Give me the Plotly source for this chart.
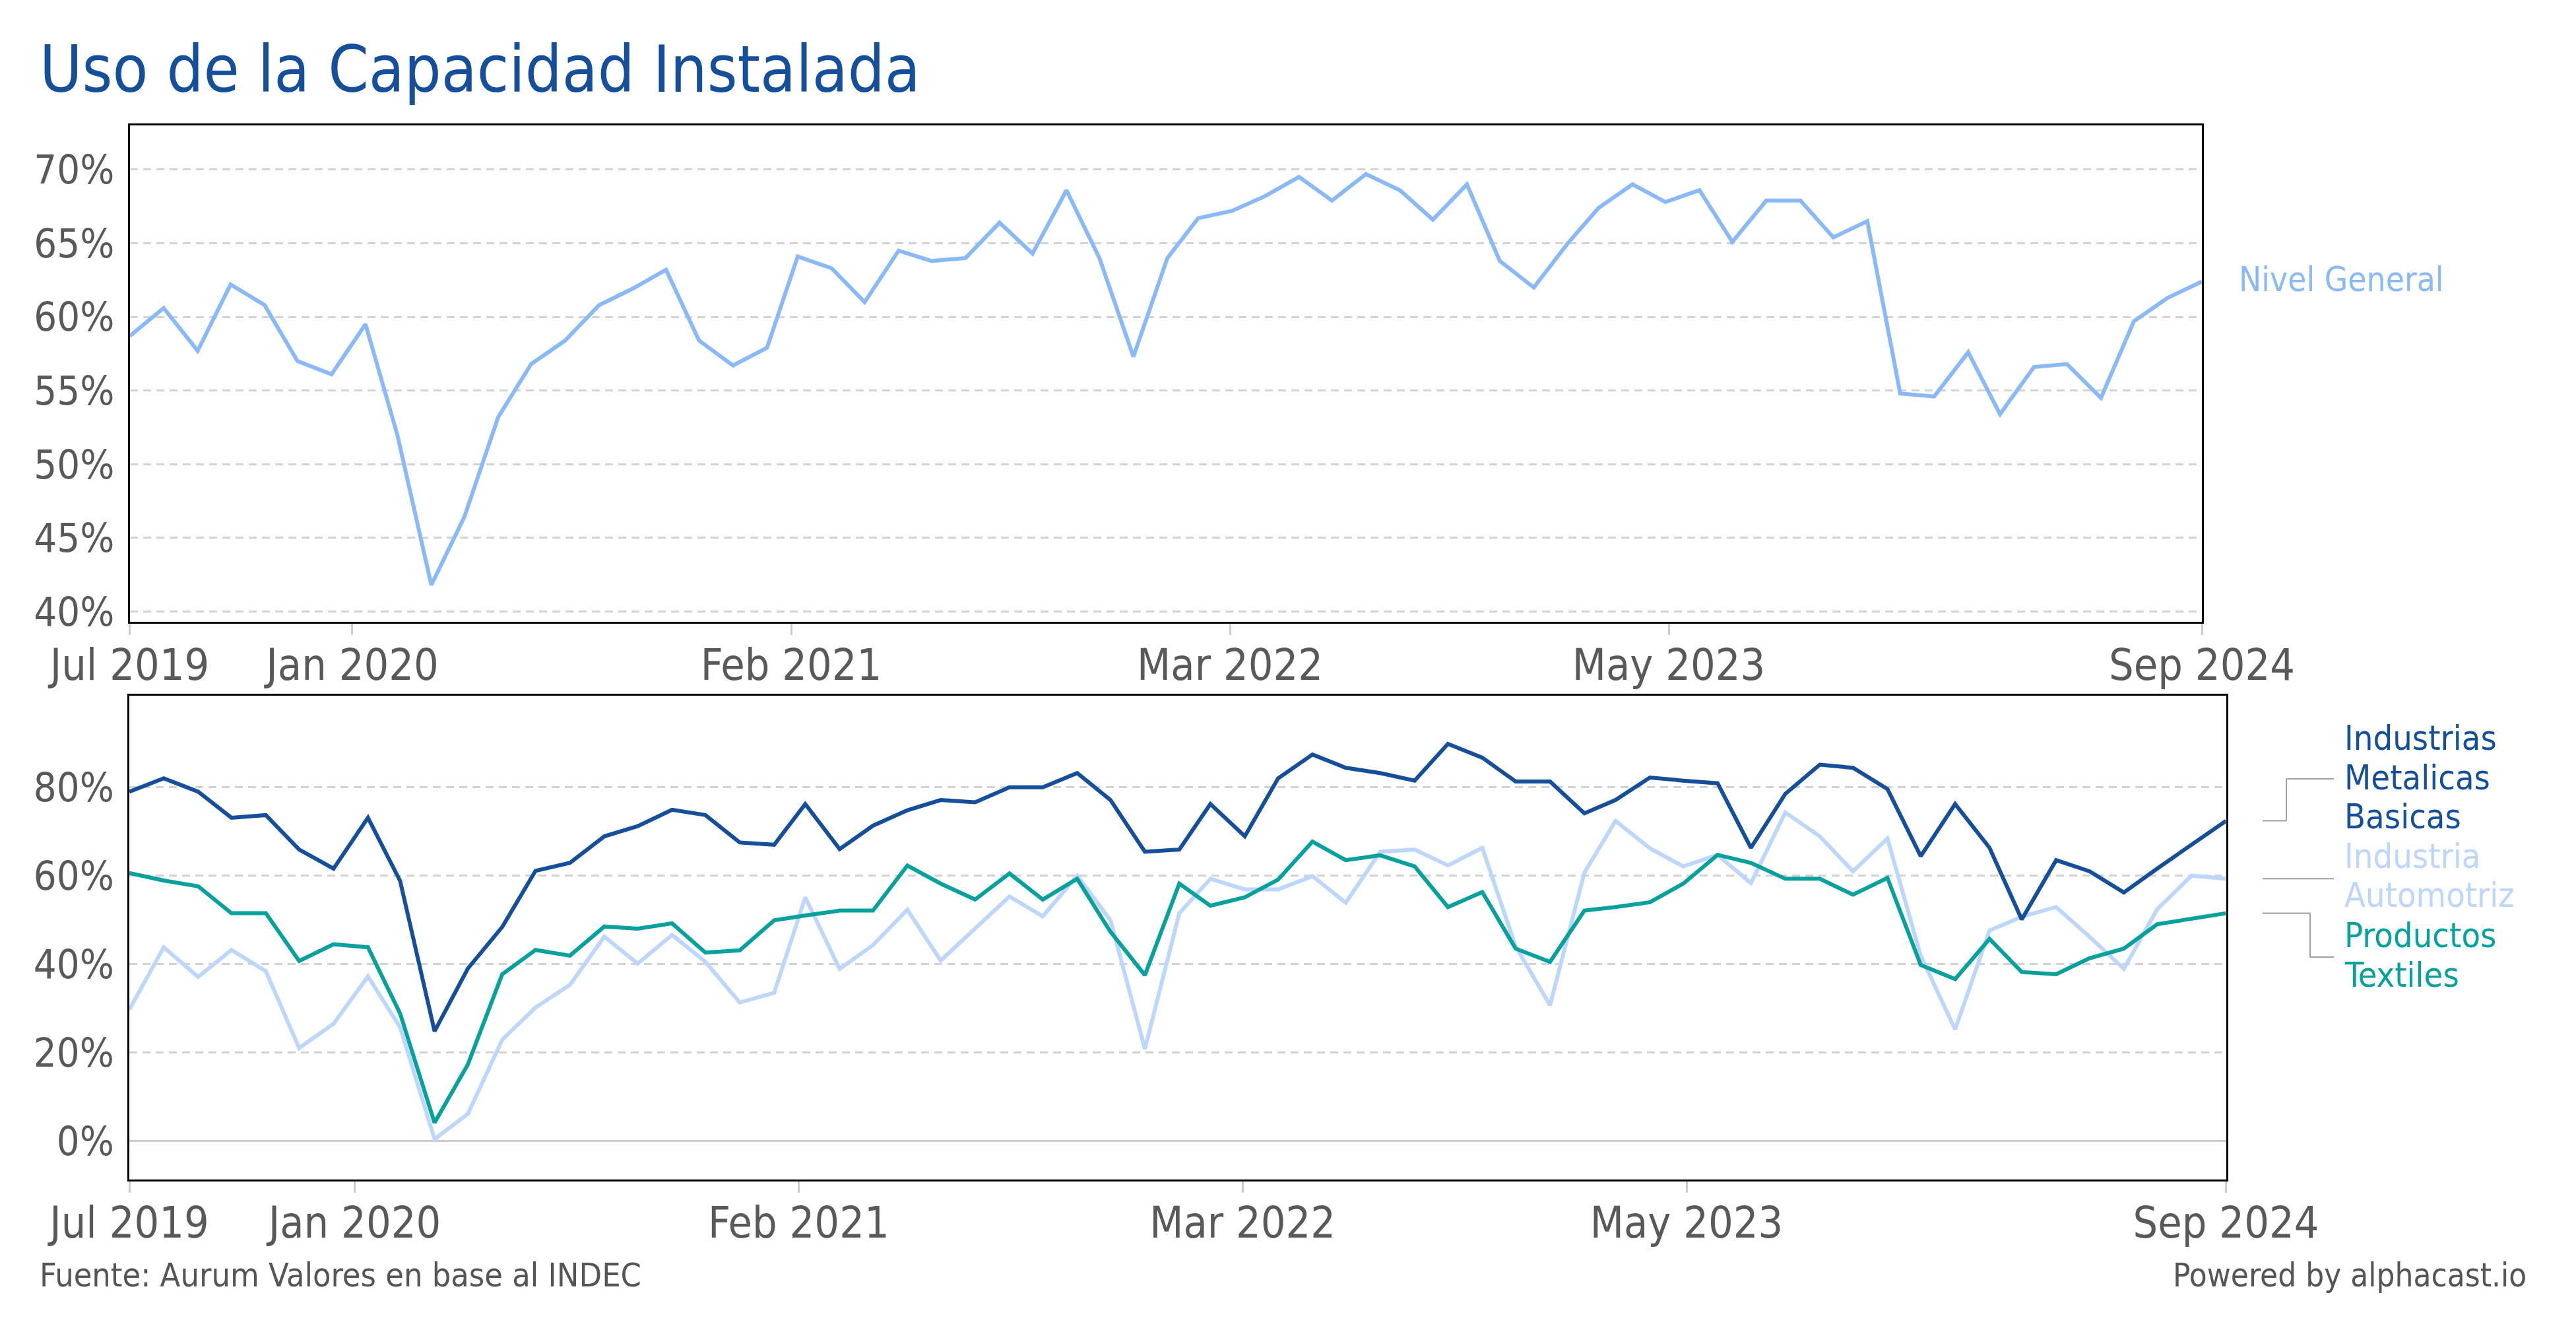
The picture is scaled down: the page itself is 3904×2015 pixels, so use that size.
import pandas as pd
import plotly.graph_objects as go

# ---------------- data ----------------
months = pd.date_range("2019-07-01", periods=63, freq="MS")

nivel_general = [58.7, 60.6, 57.7, 62.2, 60.8, 57.0, 56.1, 59.5, 52.0, 41.8,
                 46.4, 53.2, 56.8, 58.4, 60.8, 61.9, 63.2, 58.4, 56.7, 57.9,
                 64.1, 63.3, 61.0, 64.5, 63.8, 64.0, 66.4, 64.3, 68.6, 64.0,
                 57.3, 64.0, 66.7, 67.2, 68.2, 69.5, 67.9, 69.7, 68.6, 66.6,
                 69.0, 63.8, 62.0, 65.0, 67.4, 69.0, 67.8, 68.6, 65.1, 67.9,
                 67.9, 65.4, 66.5, 54.8, 54.6, 57.6, 53.4, 56.6, 56.8, 54.5,
                 59.7, 61.3, 62.4]

metalicas_basicas = [79.0, 82.0, 79.0, 73.1, 73.7, 65.9, 61.6, 73.1, 58.8, 24.8,
                     39.0, 48.4, 61.1, 62.9, 68.9, 71.2, 74.9, 73.7, 67.5, 67.0,
                     76.2, 66.0, 71.3, 74.8, 77.1, 76.6, 80.0, 80.0, 83.2, 77.1,
                     65.4, 65.9, 76.2, 68.9, 82.0, 87.4, 84.4, 83.2, 81.5, 89.8,
                     86.7, 81.3, 81.3, 74.1, 77.1, 82.2, 81.5, 80.9, 66.3, 78.5,
                     85.1, 84.4, 79.6, 64.4, 76.2, 66.3, 50.1, 63.5, 61.0, 56.2,
                     61.6, 67.0, 72.4]

automotriz = [29.7, 43.8, 37.1, 43.2, 38.4, 21.0, 26.5, 37.2, 25.7, 0.4,
              6.1, 22.9, 30.2, 35.3, 46.2, 40.1, 46.6, 40.5, 31.3, 33.5,
              55.1, 38.9, 44.3, 52.3, 40.8, 48.0, 55.3, 50.8, 60.0, 49.9,
              20.8, 51.5, 59.3, 56.9, 56.9, 59.9, 53.9, 65.4, 65.9, 62.3,
              66.3, 44.0, 30.7, 60.7, 72.4, 66.2, 62.1, 64.7, 58.3, 74.3,
              68.9, 61.0, 68.4, 41.9, 25.2, 47.6, 50.7, 52.9, 46.2, 38.9,
              52.4, 60.0, 59.3]

textiles = [60.6, 58.9, 57.6, 51.5, 51.5, 40.7, 44.5, 43.8, 28.8, 4.1,
            17.3, 37.7, 43.2, 41.9, 48.5, 48.0, 49.2, 42.6, 43.1, 49.9,
            51.0, 52.1, 52.1, 62.3, 58.2, 54.6, 60.5, 54.6, 59.3, 47.3,
            37.5, 58.2, 53.2, 55.1, 59.1, 67.7, 63.5, 64.6, 62.1, 52.9,
            56.3, 43.5, 40.5, 52.1, 52.9, 54.0, 58.2, 64.7, 62.9, 59.3,
            59.3, 55.7, 59.5, 39.8, 36.6, 45.7, 38.2, 37.7, 41.3, 43.5,
            49.0, 50.2, 51.5]

x_tick_dates = ["2019-07-01", "2020-01-20", "2021-02-23", "2022-03-30",
                "2023-05-04", "2024-09-01"]
x_tick_labels = ["Jul 2019", "Jan 2020", "Feb 2021", "Mar 2022",
                 "May 2023", "Sep 2024"]
top_y_ticks = [0.40, 0.45, 0.50, 0.55, 0.60, 0.65, 0.70]
bottom_y_ticks = [0.0, 0.2, 0.4, 0.6, 0.8]

# ---------------- style ----------------
OFF = 8                      # default page margin around the plot div
W, H = 3904 - 2 * OFF, 2015 - 2 * OFF
FONT = "DejaVu Sans Condensed, DejaVu Sans, sans-serif"
C_NIVEL = "#8ab9fa"
C_METAL = "#154e9a"
C_AUTO = "#bdd6fb"
C_TEXT = "#06a09d"
C_TICK = "#595959"
C_GRID = "#d2d2d2"
LW = 6


def px_x(p):
    return (p - OFF) / W


def px_y(p):
    return 1 - (p - OFF) / H


def frac(vals):
    return [v / 100 for v in vals]


fig = go.Figure()

fig.add_trace(go.Scatter(x=months, y=frac(nivel_general), mode="lines",
                         line=dict(color=C_NIVEL, width=LW), name="Nivel General",
                         xaxis="x", yaxis="y", showlegend=False))
fig.add_trace(go.Scatter(x=months, y=frac(automotriz), mode="lines",
                         line=dict(color=C_AUTO, width=LW), name="Industria Automotriz",
                         xaxis="x2", yaxis="y2", showlegend=False))
fig.add_trace(go.Scatter(x=months, y=frac(textiles), mode="lines",
                         line=dict(color=C_TEXT, width=LW), name="Productos Textiles",
                         xaxis="x2", yaxis="y2", showlegend=False))
fig.add_trace(go.Scatter(x=months, y=frac(metalicas_basicas), mode="lines",
                         line=dict(color=C_METAL, width=LW),
                         name="Industrias Metalicas Basicas",
                         xaxis="x2", yaxis="y2", showlegend=False))

xaxis_common = dict(
    type="date",
    range=[months[0], months[-1]],
    tickmode="array",
    tickvals=x_tick_dates,
    ticktext=x_tick_labels,
    ticks="outside",
    ticklen=17,
    tickwidth=3,
    tickcolor="#cccccc",
    tickfont=dict(family=FONT, size=66, color=C_TICK),
    showgrid=False,
    showline=True,
    linecolor="black",
    linewidth=3,
    mirror=True,
    zeroline=False,
    ticklabelstandoff=-11,
    automargin=False,
)
yaxis_common = dict(
    tickformat=".0%",
    tickmode="array",
    ticks="",
    tickfont=dict(family=FONT, size=61, color=C_TICK),
    showgrid=True,
    gridcolor=C_GRID,
    gridwidth=3,
    griddash="12px,8px",
    showline=True,
    linecolor="black",
    linewidth=3,
    mirror=True,
    ticklabelstandoff=8,
    automargin=False,
)

fig.update_layout(
    width=W, height=H,
    autosize=False,
    margin=dict(l=0, r=0, t=0, b=0, pad=0),
    paper_bgcolor="white",
    plot_bgcolor="white",
    showlegend=False,
    xaxis=dict(xaxis_common, domain=[px_x(196.5), px_x(3337)], anchor="y"),
    yaxis=dict(yaxis_common, domain=[px_y(941.6), px_y(189.6)], anchor="x",
               range=[0.3932, 0.7302], tickvals=top_y_ticks, zeroline=False),
    xaxis2=dict(xaxis_common, domain=[px_x(196), px_x(3373.5)], anchor="y2"),
    yaxis2=dict(yaxis_common, domain=[px_y(1787), px_y(1054)], anchor="x2",
                range=[-0.0873, 1.0071], tickvals=bottom_y_ticks,
                zeroline=True, zerolinecolor="#cccccc", zerolinewidth=3),
)

annotations = []
# Title
annotations.append(dict(text="Uso de la Capacidad Instalada", xref="paper", yref="paper",
                        x=px_x(58), y=px_y(105), xanchor="left", yanchor="middle",
                        showarrow=False,
                        font=dict(family=FONT, size=98, color="#154e9a")))
# Series label top
annotations.append(dict(text="Nivel General", xref="paper", yref="paper",
                        x=px_x(3391), y=px_y(423), xanchor="left", yanchor="middle",
                        showarrow=False, font=dict(family=FONT, size=51, color=C_NIVEL)))
# Bottom series labels
label_lines = [("Industrias", C_METAL, 1118), ("Metalicas", C_METAL, 1178),
               ("Basicas", C_METAL, 1237), ("Industria", C_AUTO, 1297),
               ("Automotriz", C_AUTO, 1356), ("Productos", C_TEXT, 1417),
               ("Textiles", C_TEXT, 1477)]
for txt, col, yp in label_lines:
    annotations.append(dict(text=txt, xref="paper", yref="paper",
                            x=px_x(3551), y=px_y(yp), xanchor="left", yanchor="middle",
                            showarrow=False, font=dict(family=FONT, size=52, color=col)))
# Footer
annotations.append(dict(text="Fuente: Aurum Valores en base al INDEC", xref="paper",
                        yref="paper", x=px_x(58), y=px_y(1932), xanchor="left",
                        yanchor="middle", showarrow=False,
                        font=dict(family=FONT, size=50, color="#555555")))
annotations.append(dict(text="Powered by alphacast.io", xref="paper", yref="paper",
                        x=px_x(3831), y=px_y(1932), xanchor="right", yanchor="middle",
                        showarrow=False, font=dict(family=FONT, size=49, color="#555555")))
fig.update_layout(annotations=annotations)

# Connector lines from series ends to labels
CON = dict(color="#a0a0a0", width=2)
x_a, x_b, x_c, x_d = px_x(3429), px_x(3465), px_x(3501), px_x(3537)
m_end = metalicas_basicas[-1] / 100
a_end = automotriz[-1] / 100
t_end = textiles[-1] / 100
m_lab = 0.819
t_lab = 0.416
shapes = [
    dict(type="line", xref="paper", yref="y2", x0=x_a, x1=x_b, y0=m_end, y1=m_end, line=CON),
    dict(type="line", xref="paper", yref="y2", x0=x_b, x1=x_b, y0=m_end, y1=m_lab, line=CON),
    dict(type="line", xref="paper", yref="y2", x0=x_b, x1=x_d, y0=m_lab, y1=m_lab, line=CON),
    dict(type="line", xref="paper", yref="y2", x0=x_a, x1=x_d, y0=a_end, y1=a_end, line=CON),
    dict(type="line", xref="paper", yref="y2", x0=x_a, x1=x_c, y0=t_end, y1=t_end, line=CON),
    dict(type="line", xref="paper", yref="y2", x0=x_c, x1=x_c, y0=t_end, y1=t_lab, line=CON),
    dict(type="line", xref="paper", yref="y2", x0=x_c, x1=x_d, y0=t_lab, y1=t_lab, line=CON),
]
fig.update_layout(shapes=shapes)

fig.write_html("out.html")
